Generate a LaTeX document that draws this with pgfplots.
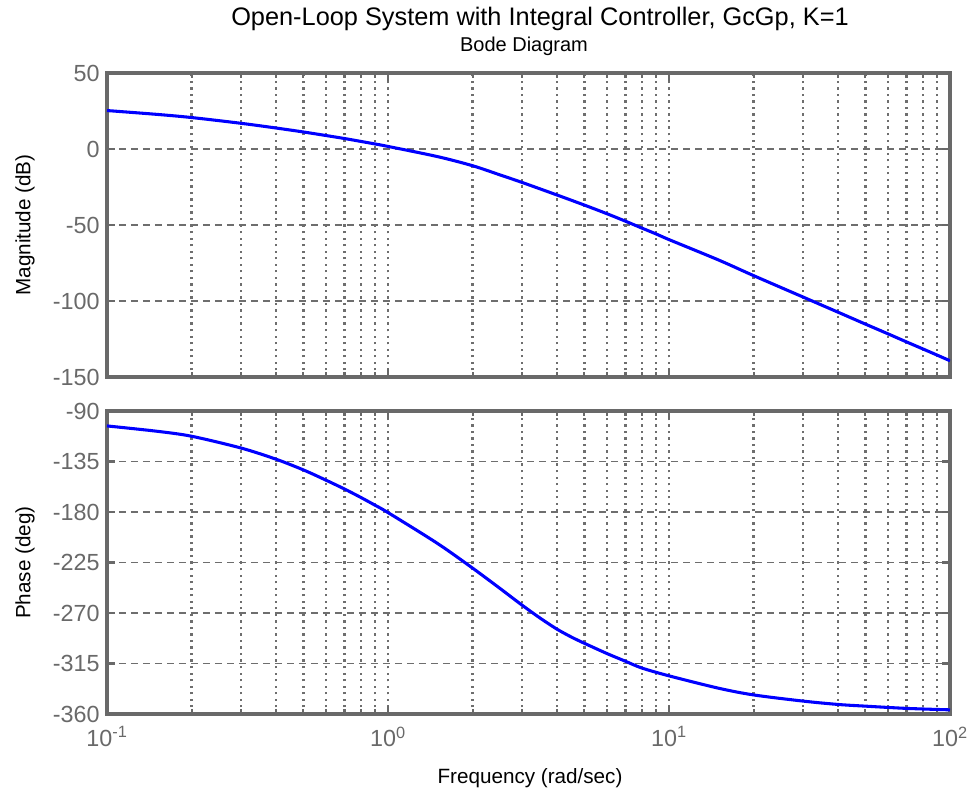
\documentclass[border=0pt]{standalone}
\usepackage{fontspec}
\setmainfont{Liberation Sans}
\usepackage{pgfplots}
\usepackage{pgfplotstable}
\pgfplotsset{compat=1.18}
\definecolor{axgray}{RGB}{105,105,105}
\definecolor{gridgray}{RGB}{110,110,110}
\definecolor{bodeblue}{RGB}{0,0,255}

% magnitude (dB)
\pgfplotstableread{
w     mag
0.1   25.3
0.15  22.8
0.2   20.7
0.3   16.9
0.4   13.8
0.5   11.2
0.6   8.9
0.7   6.9
0.8   5.0
0.9   3.3
1     1.7
1.5   -5.0
2     -11.0
2.5   -17.0
3     -22.0
4     -30.3
5     -36.9
6     -42.5
7     -47.5
8     -52.0
9     -55.9
10    -59.6
15    -73.0
20    -83.3
30    -97.4
40    -107.4
50    -115.2
60    -121.5
70    -126.9
80    -131.5
90    -135.6
100   -139.3
}\magdata

% phase (deg)
\pgfplotstableread{
w     ph
0.1   -103.3
0.15  -108.0
0.2   -112.5
0.3   -123.0
0.4   -133.0
0.5   -142.5
0.6   -151.5
0.7   -159.5
0.8   -167.0
0.9   -174.0
1     -180.5
1.5   -208.0
2     -230.0
2.5   -248.0
3     -263.0
3.5   -275.0
4     -284.5
4.5   -291.5
5     -297.0
6     -306.0
7     -313.0
8     -319.0
10    -326.0
15    -337.0
20    -343.0
30    -348.5
40    -351.5
50    -353.0
70    -355.0
100   -356.3
}\phdata

\begin{document}
\begin{tikzpicture}
\useasboundingbox (0,0) rectangle (726pt,-596.25pt);

\node[font=\fontsize{19}{20}\selectfont] at (405pt,-14pt) {Open-Loop System with Integral Controller, GcGp, K=1};
\node[font=\fontsize{15}{16}\selectfont] at (393pt,-35pt) {Bode Diagram};
\node[rotate=90, font=\fontsize{15.5}{16}\selectfont] at (18.75pt,-168.75pt) {Magnitude (dB)};
\node[rotate=90, font=\fontsize{15.5}{16}\selectfont] at (18.75pt,-421.9pt) {Phase (deg)};
\node[font=\fontsize{15.5}{16}\selectfont] at (397.5pt,-583.5pt) {Frequency (rad/sec)};

\begin{axis}[
  scale only axis,
  width=632.25pt, height=228pt,
  at={(80.25pt,-54.75pt)}, anchor=north west,
  xmode=log, xmin=0.1, xmax=100,
  ymin=-150, ymax=50,
  ytick={-150,-100,-50,0,50},
  xticklabels={},
  grid=both,
  axis line style={axgray, line width=2.6pt},
  major x grid style={gridgray, line width=1.7pt, dash pattern=on 1.7pt off 3.2pt},
  minor x grid style={gridgray, line width=1.7pt, dash pattern=on 1.7pt off 3.2pt},
  major y grid style={gridgray, line width=1.2pt, dash pattern=on 5.5pt off 3.5pt},
  tick align=inside,
  major tick length=6pt, minor tick length=3.5pt,
  tick style={axgray, line width=1.6pt},
  /pgf/number format/assume math mode=true,
  yticklabel style={text=axgray, font=\fontsize{17.5}{18}\selectfont, xshift=-2pt},
]
\addplot[bodeblue, line width=2.3pt, smooth] table[x=w, y=mag] {\magdata};
\end{axis}

\begin{axis}[
  scale only axis,
  width=632.25pt, height=227.25pt,
  at={(80.25pt,-308.25pt)}, anchor=north west,
  xmode=log, xmin=0.1, xmax=100,
  ymin=-360, ymax=-90,
  ytick={-360,-315,-270,-225,-180,-135,-90},
  xtick={0.1,1,10,100},
  xticklabels={10\textsuperscript{-1},10\textsuperscript{0},10\textsuperscript{1},10\textsuperscript{2}},
  grid=both,
  axis line style={axgray, line width=2.6pt},
  major x grid style={gridgray, line width=1.7pt, dash pattern=on 1.7pt off 3.2pt},
  minor x grid style={gridgray, line width=1.7pt, dash pattern=on 1.7pt off 3.2pt},
  major y grid style={gridgray, line width=1.2pt, dash pattern=on 5.5pt off 3.5pt},
  tick align=inside,
  major tick length=6pt, minor tick length=3.5pt,
  tick style={axgray, line width=1.6pt},
  /pgf/number format/assume math mode=true,
  yticklabel style={text=axgray, font=\fontsize{17.5}{18}\selectfont, xshift=-2pt},
  xticklabel style={text=axgray, font=\fontsize{17.5}{18}\selectfont, yshift=-6pt},
]
\addplot[bodeblue, line width=2.3pt, smooth] table[x=w, y=ph] {\phdata};
\end{axis}
\end{tikzpicture}
\end{document}
